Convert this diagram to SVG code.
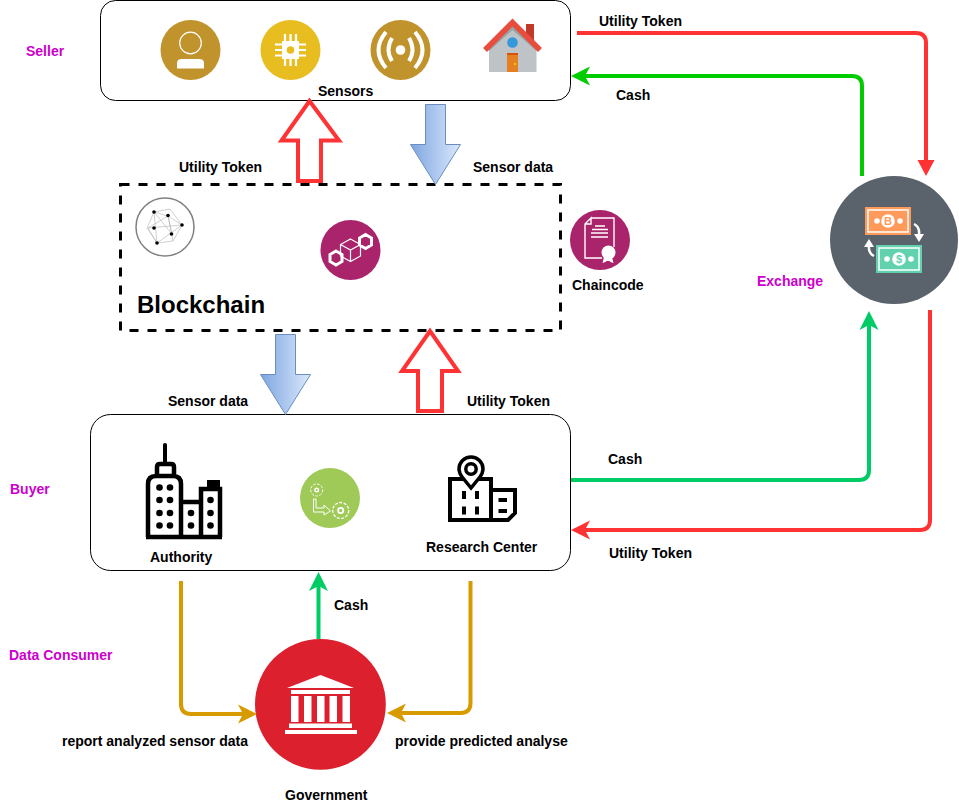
<svg xmlns="http://www.w3.org/2000/svg" width="959" height="805" viewBox="0 0 959 805">
<style>
text{font-family:"Liberation Sans",Arial,sans-serif;font-size:14px;font-weight:700;fill:#000}
.role{fill:#cc00cc}
.box{fill:#fff;stroke:#000;stroke-width:1}
.conn{fill:none;stroke-width:4;stroke-linejoin:round}
.hollow{fill:#fff;stroke:#ff3333;stroke-width:4}
.block{fill:url(#blue);stroke:#6c8ebf;stroke-width:1}
.w{fill:#fff}
.wl{fill:none;stroke:#fff;stroke-width:1.2}
.k{fill:none;stroke:#000;stroke-width:4.500}
.kf{fill:#000}
</style>
<defs>
<linearGradient id="blue" x1="0" y1="0" x2="1" y2="0"><stop offset="0" stop-color="#7ea6e0"/><stop offset="1" stop-color="#dae8fc"/></linearGradient>
</defs>
<rect width="959" height="805" fill="#fff"/>

<g id="seller">
<rect class="box" x="100.500" y="0.500" width="470" height="100" rx="15"/>
<text x="318" y="96">Sensors</text>
<circle cx="190.500" cy="50" r="30" fill="#c1932c"/>
<circle cx="190.500" cy="43" r="10.800" fill="none" stroke="#fff" stroke-width="1.200"/>
<path class="w" d="M177 68.500V63q0-4 5-4h17q5 0 5 4v5.500z"/>
<circle cx="290.500" cy="50" r="30" fill="#e8bd20"/>
<path class="w" d="M282 41h17v18h-17z"/>
<path stroke="#fff" stroke-width="2.200" fill="none" d="M285 34v32M290.500 34v32M296 34v32M275 44.500h31M275 50h31M275 55.500h31"/>
<circle cx="290.500" cy="50" r="3.800" fill="#e8bd20"/>
<circle cx="400.500" cy="50" r="30" fill="#c1932c"/>
<circle cx="400.500" cy="50" r="4.800" class="w"/>
<path fill="none" stroke="#fff" stroke-width="4" d="M392 38Q385 50 392 61M409 38Q416 50 409 61"/>
<path fill="none" stroke="#fff" stroke-width="4" d="M386 32Q371 50 386 68M415 32Q430 50 415 68"/>
<path fill="#bdc3c7" d="M489 72V45l23.500-21 24 21v27z"/>
<path fill="#95a5a6" d="M489 46l23.500-21 24 21v5l-24-21-23.500 21z"/>
<path fill="#c0392b" d="M526 24h8v22l-8-7z"/>
<path fill="none" stroke="#e74c3c" stroke-width="5.500" d="M485 50l27.500-27.500 27.500 27.500"/>
<circle cx="512.500" cy="42.500" r="5.300" fill="#3498db"/>
<rect x="507" y="53" width="11" height="19" fill="#e67e22"/>
<rect x="507" y="53" width="11" height="2" fill="#d35400"/>
<circle cx="515" cy="64" r="1.200" fill="#f1c40f"/>
</g>

<g id="blockchain">
<rect x="120.500" y="184.500" width="440" height="146" fill="#fff" stroke="#000" stroke-width="3" stroke-dasharray="9 9"/>
<text x="137" y="313" style="font-size:24px">Blockchain</text>
<circle cx="165" cy="227" r="29" fill="#fff" stroke="#808080" stroke-width="1.500"/>
<g fill="none" stroke="#b0b0b0" stroke-width="0.600">
<path d="M154 212l16-3 12 16-9 16-16 2-10-15zM154 212l14 4 14 9-25 18-9-15 20-12 4 18M154 212l3 31M168 216l5 25M148 228l34-3M154 212l18 22"/>
</g>
<g class="kf"><circle cx="154" cy="212" r="1.800"/><circle cx="168" cy="215.500" r="1.800"/><circle cx="182" cy="225" r="1.800"/><circle cx="154" cy="228" r="1.800"/><circle cx="171.500" cy="234" r="1.800"/><circle cx="157" cy="243" r="1.800"/></g>
<circle cx="350.500" cy="250" r="30" fill="#a9246b"/>
<path class="wl" d="M350.500 239l10 5.500v11.500l-10 5.500-10-5.500v-11.500zM340.500 244.500l10 5.500 10-5.500M350.500 250v11.500"/>
<path fill="none" stroke="#fff" stroke-width="3" d="M365.500 234.500l6 3.500v7l-6 3.500-6-3.500v-7zM336 251l6 3.500v7l-6 3.500-6-3.500v-7z"/>
</g>

<g id="chaincode">
<circle cx="600" cy="240" r="30" fill="#a9246b"/>
<path fill="none" stroke="#fff" stroke-width="1.400" d="M591 218h23v29M602 258h-17v-34l6-6v6h-6"/>
<path stroke="#fff" stroke-width="1.500" fill="none" d="M595 226h10M592 229.500h16M591 233h17M591 237h17"/>
<circle cx="608.500" cy="252.500" r="7" class="w"/>
<path class="w" d="M604 257l-1.500 6 3-1 1-1h3l1 1 3 1-1.500-6z"/>
<text x="572" y="290">Chaincode</text>
</g>

<g id="exchange">
<circle cx="894" cy="240" r="64" fill="#5a626b"/>
<rect x="865" y="207" width="46" height="28" fill="#ff9a5b"/>
<rect x="868" y="210" width="40" height="22" fill="none" stroke="#fff" stroke-width="1.500"/>
<circle cx="888" cy="221" r="6.800" class="w"/>
<circle cx="877" cy="221" r="2.800" class="w"/><circle cx="900" cy="221" r="2.800" class="w"/>
<text x="888" y="225" text-anchor="middle" style="font-size:11px;fill:#ff9a5b">B</text>
<rect x="876" y="245" width="46" height="28" fill="#62d2ae"/>
<rect x="879" y="248" width="40" height="22" fill="none" stroke="#fff" stroke-width="1.500"/>
<circle cx="899" cy="259" r="6.800" class="w"/>
<circle cx="887" cy="259" r="2.800" class="w"/><circle cx="911" cy="259" r="2.800" class="w"/>
<text x="899" y="263" text-anchor="middle" style="font-size:11px;fill:#62d2ae">$</text>
<path fill="none" stroke="#fff" stroke-width="2.500" d="M914 224q6 3 5 11M874 256q-6-3-5-11"/>
<path class="w" d="M914 234h10l-5 8zM864 247h10l-5-8z"/>
<text class="role" x="757" y="286">Exchange</text>
</g>

<g id="buyer">
<rect class="box" x="90.500" y="414.500" width="480" height="156" rx="20"/>
<g id="authority">
<path fill="none" stroke="#000" stroke-width="4" stroke-linecap="round" d="M165 445v18"/>
<path class="k" d="M157 476v-9q0-3 3-3h11q3 0 3 3v9M148 537v-53q0-8 8-8h17q8 0 8 8v53M181 502h20M201 537v-48h19v48M146 537h76M181 502v35"/>
<rect x="207" y="480" width="13" height="9" class="kf"/>
<g class="kf">
<circle cx="159.500" cy="487.500" r="3.300"/><circle cx="170" cy="487.500" r="3.300"/>
<circle cx="159.500" cy="500" r="3.300"/><circle cx="170" cy="500" r="3.300"/>
<circle cx="159.500" cy="513" r="3.300"/><circle cx="170" cy="513" r="3.300"/>
<circle cx="159.500" cy="525.500" r="3.300"/><circle cx="170" cy="525.500" r="3.300"/>
<circle cx="191" cy="513" r="3.300"/><circle cx="191" cy="525.500" r="3.300"/>
<circle cx="210.500" cy="500" r="3.300"/><circle cx="210.500" cy="513" r="3.300"/><circle cx="210.500" cy="525.500" r="3.300"/>
</g>
<text x="150" y="562">Authority</text>
</g>
<g id="process">
<circle cx="330" cy="498" r="30" fill="#a0ca57"/>
<circle cx="316.700" cy="490" r="6" fill="none" stroke="#fff" stroke-width="1" stroke-dasharray="2.500 1.500"/>
<circle cx="316.700" cy="490" r="1.800" fill="none" stroke="#fff" stroke-width="1.400"/>
<circle cx="340.700" cy="510.500" r="8" fill="none" stroke="#fff" stroke-width="1.300" stroke-dasharray="3 1.500"/>
<circle cx="340.700" cy="510.500" r="2.600" fill="none" stroke="#fff" stroke-width="1.800"/>
<path fill="none" stroke="#fff" stroke-width="1" d="M316 499v9h8v-3l6.500 6-6.500 4v-3h-10.500v-13z"/>
</g>
<g id="research">
<path fill="none" stroke="#000" stroke-width="4" d="M450 520v-41h41v41M448 520h44M491 490h24v23l-7 7h-17"/>
<path fill="#fff" stroke="#000" stroke-width="3.500" d="M471 488l-8.500-10.500q-3.500-4.500-3.500-8.500a12 12 0 0 1 24 0q0 4-3.500 8.500z"/>
<circle cx="471" cy="469" r="5.200" fill="#fff" stroke="#000" stroke-width="3.500"/>
<path stroke="#000" stroke-width="4" fill="none" d="M464 491v8M477 491v8M464 506.500v8M477 506.500v8"/>
<path stroke="#000" stroke-width="4" fill="none" d="M498.500 500h8.500M498.500 511h8.500"/>
<text x="426" y="552">Research Center</text>
</g>
</g>

<g id="government">
<circle cx="320.400" cy="704.300" r="65.400" fill="#dc202e"/>
<path class="w" d="M287 688l33.500-13 33.500 13z"/>
<rect x="291" y="690" width="59" height="4" class="w"/>
<path class="w" d="M291 696h7.500v26h-7.500zM304 696h7.500v26h-7.500zM317 696h7.500v26h-7.500zM329.500 696h7.500v26h-7.500zM342.500 696h7.500v26h-7.500z"/>
<rect x="289" y="723.500" width="63" height="4.500" class="w"/>
<rect x="285" y="730" width="72" height="4" class="w"/>
<text x="285" y="800">Government</text>
</g>

<g id="connectors">
<path class="conn" stroke="#ff3333" d="M577 33H916Q926 33 926 43V162"/>
<path fill="#ff3333" d="M926 176l-8.500-16h17z"/>
<path class="conn" stroke="#00cc00" d="M862 176V86Q862 76 852 76H585"/>
<path fill="#00cc00" d="M571 76l19-9.500-5 9.500 5 9.500z"/>
<path class="conn" stroke="#00cc66" d="M571 480H859Q869 480 869 470V325"/>
<path fill="#00cc66" d="M869 311l9.500 19-9.500-5-9.500 5z"/>
<path class="conn" stroke="#ff3333" d="M930 310V520Q930 530 920 530H585"/>
<path fill="#ff3333" d="M571 530l19-9.500-5 9.500 5 9.500z"/>
<path class="conn" stroke="#00cc66" d="M318.500 639V586"/>
<path fill="#00cc66" d="M318.500 572l9.500 19-9.500-5-9.500 5z"/>
<path class="conn" stroke="#d79b00" d="M181 581V704Q181 714 191 714H243"/>
<path fill="#d79b00" d="M257 714l-19 9.500 5-9.500-5-9.500z"/>
<path class="conn" stroke="#d79b00" d="M470.500 581V703Q470.500 713 460.500 713H401"/>
<path fill="#d79b00" d="M387 713l19-9.500-5 9.500 5 9.500z"/>
<path class="hollow" d="M298 181V140.500H281.500L309.500 101l29.500 39.500H321V181z"/>
<path class="hollow" d="M418 411V371H402L430 331l28 40H442V411z"/>
<path class="block" d="M425.500 104.500h20v40h15l-25 40-25-40h15z"/>
<path class="block" d="M275.500 334.500h20v40h15l-25 40-25-40h15z"/>
<text x="599" y="26">Utility Token</text>
<text x="616" y="100">Cash</text>
<text x="179" y="172">Utility Token</text>
<text x="473" y="172">Sensor data</text>
<text x="168" y="406">Sensor data</text>
<text x="467" y="406">Utility Token</text>
<text x="608" y="464">Cash</text>
<text x="609" y="558">Utility Token</text>
<text x="334" y="610">Cash</text>
<text x="62" y="746">report analyzed sensor data</text>
<text x="395" y="746">provide predicted analyse</text>
</g>

<g id="labels">
<text class="role" x="26" y="56">Seller</text>
<text class="role" x="10" y="494">Buyer</text>
<text class="role" x="9" y="660">Data Consumer</text>
</g>
</svg>
